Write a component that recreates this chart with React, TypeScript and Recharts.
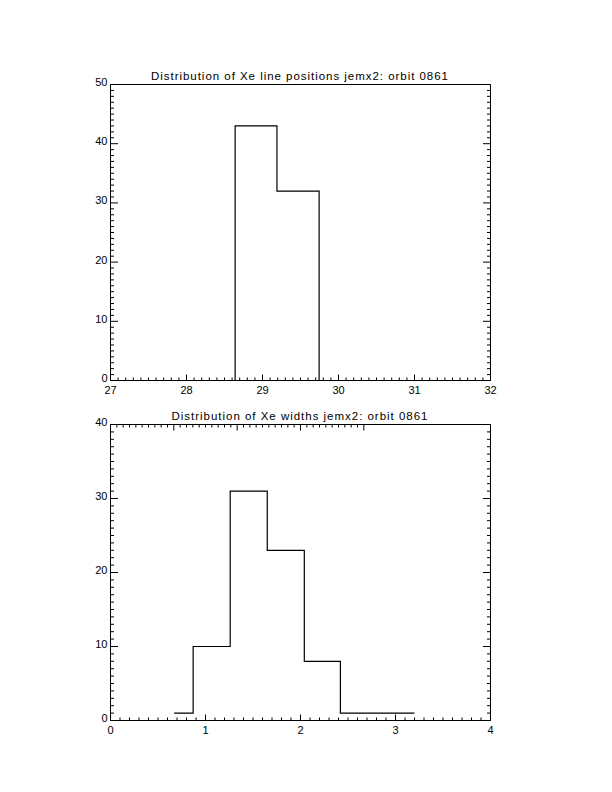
import React from 'react';
import { LineChart, Line, XAxis, YAxis } from 'recharts';

// ---- data ----
const posTitle = 'Distribution of Xe line positions jemx2: orbit 0861';
const widthTitle = 'Distribution of Xe widths jemx2: orbit 0861';

const posX = [28.64, 28.64, 29.19, 29.745];
const posCount = [0, 43, 32, 0];

const widX = [0.67, 0.87, 1.26, 1.65, 2.04, 2.42, 3.2];
const widCount = [1, 10, 31, 23, 8, 1, 1];

const posXMajor = [27, 28, 29, 30, 31, 32];
const posYMajor = [0, 10, 20, 30, 40, 50];
const widXMajor = [0, 1, 2, 3, 4];
const widYMajor = [0, 10, 20, 30, 40];

// ---- helpers ----
const FONT = "'Liberation Sans', Arial, sans-serif";

function withMinor(majors: number[], n = 10): number[] {
  const out: number[] = [];
  for (let i = 0; i < majors.length; i++) {
    out.push(majors[i]);
    if (i < majors.length - 1) {
      const a = majors[i];
      const b = majors[i + 1];
      for (let k = 1; k < n; k++) out.push(Math.round((a + ((b - a) * k) / n) * 1e6) / 1e6);
    }
  }
  return out;
}

const isMajor = (v: number, majors: number[]) => majors.some((m) => Math.abs(m - v) < 1e-6);

type Side = 'bottom' | 'top' | 'left' | 'right';

const makeTick =
  (side: Side, majors: number[], majorLen: number, minorLen: number) =>
  (props: any) => {
    const { x, y, payload } = props;
    const v = payload.value as number;
    const major = isMajor(v, majors);
    const len = major ? majorLen : minorLen;
    let ln: any;
    if (side === 'bottom') ln = <line x1={x} x2={x} y1={y} y2={y - len} />;
    else if (side === 'top') ln = <line x1={x} x2={x} y1={y} y2={y + len} />;
    else if (side === 'left') ln = <line x1={x} x2={x + len} y1={y} y2={y} />;
    else ln = <line x1={x} x2={x - len} y1={y} y2={y} />;
    let label: any = null;
    if (major && side === 'bottom') {
      label = (
        <text x={x} y={y + 13} textAnchor="middle" fill="#000" stroke="none" fontFamily={FONT} fontSize={11}>
          {String(v)}
        </text>
      );
    } else if (major && side === 'left') {
      label = (
        <text x={x - 3} y={y + 1.5} textAnchor="end" fill="#000" stroke="none" fontFamily={FONT} fontSize={11}>
          {String(v)}
        </text>
      );
    }
    return (
      <g stroke="#000" strokeWidth={1}>
        {ln}
        {label}
      </g>
    );
  };

const makeTitle = (title: string, len: number) => (props: any) => {
  const vb = props.viewBox || {};
  return (
    <text
      x={vb.x + vb.width / 2 - 1}
      y={vb.y + vb.height - 4.5}
      textAnchor="middle"
      textLength={len}
      lengthAdjust="spacing"
      fill="#000"
      fontFamily={FONT}
      fontSize={11.5}
    >
      {title}
    </text>
  );
};

type PanelProps = {
  xs: number[];
  ys: number[];
  xMajor: number[];
  yMajor: number[];
  title: string;
  titleLen: number;
  top: number;
  height: number;
  plotTop: number;
  plotBottom: number;
};

function Panel({ xs, ys, xMajor, yMajor, title, titleLen, top, height, plotTop, plotBottom }: PanelProps) {
  const data = xs.map((x, i) => ({ x, y: ys[i] }));
  const xTicks = withMinor(xMajor);
  const yTicks = withMinor(yMajor);
  const xDom: [number, number] = [xMajor[0], xMajor[xMajor.length - 1]];
  const yDom: [number, number] = [yMajor[0], yMajor[yMajor.length - 1]];
  const common = {
    type: 'number' as const,
    interval: 0 as const,
    allowDataOverflow: true,
    tickSize: 0,
    tickMargin: 0,
    tickLine: false,
    axisLine: { stroke: '#000', strokeWidth: 1 },
  };
  return (
    <div style={{ position: 'absolute', left: 0, top, width: 612, height }}>
      <LineChart width={612} height={height} data={data} margin={{ top: 0, right: 0, bottom: 0, left: 0 }}>
        <XAxis
          {...common}
          xAxisId="b"
          dataKey="x"
          orientation="bottom"
          domain={xDom}
          ticks={xTicks}
          height={height - plotBottom}
          tick={makeTick('bottom', xMajor, 6, 3)}
        />
        <XAxis
          {...common}
          xAxisId="t"
          orientation="top"
          domain={xDom}
          ticks={xTicks}
          height={plotTop}
          tick={makeTick('top', xMajor, 6, 3)}
          label={makeTitle(title, titleLen)}
        />
        <YAxis
          {...common}
          yAxisId="l"
          orientation="left"
          domain={yDom}
          ticks={yTicks}
          width={110.5}
          tick={makeTick('left', yMajor, 7.5, 3.5)}
        />
        <YAxis
          {...common}
          yAxisId="r"
          orientation="right"
          domain={yDom}
          ticks={yTicks}
          width={121.5}
          tick={makeTick('right', yMajor, 7.5, 3.5)}
        />
        <Line
          xAxisId="b"
          yAxisId="l"
          type="stepAfter"
          dataKey="y"
          stroke="#000"
          strokeWidth={1.2}
          dot={false}
          activeDot={false}
          isAnimationActive={false}
        />
      </LineChart>
    </div>
  );
}

export default function App() {
  return (
    <div style={{ position: 'absolute', left: 0, top: 0, width: 612, height: 792, background: '#fff' }}>
      <Panel
        xs={posX}
        ys={posCount}
        xMajor={posXMajor}
        yMajor={posYMajor}
        title={posTitle}
        titleLen={297}
        top={0}
        height={400}
        plotTop={84.5}
        plotBottom={380.5}
      />
      <Panel
        xs={widX}
        ys={widCount}
        xMajor={widXMajor}
        yMajor={widYMajor}
        title={widthTitle}
        titleLen={256}
        top={400}
        height={392}
        plotTop={24.5}
        plotBottom={320.5}
      />
    </div>
  );
}
